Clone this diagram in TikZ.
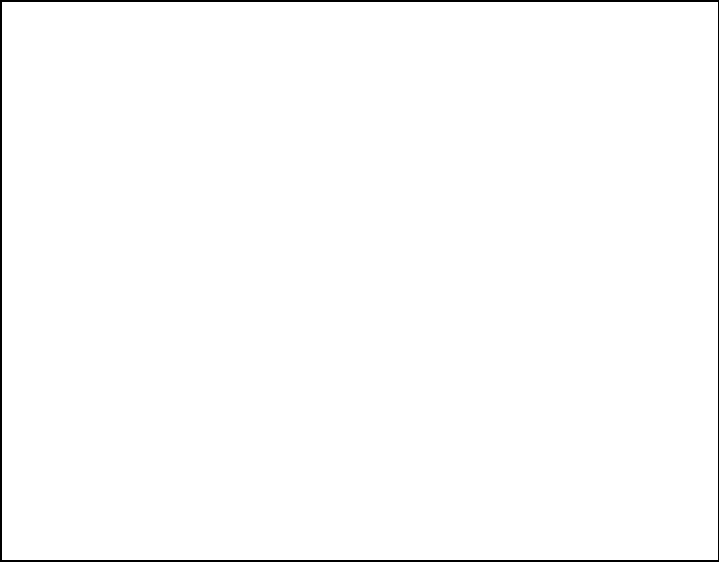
\documentclass[tikz,border=0pt]{standalone}
\begin{document}
\begin{tikzpicture}[x=1bp,y=1bp]
\useasboundingbox (0,0) rectangle (720,562);
\fill[white] (0,0) rectangle (720,562);
\draw[black,line width=1.3bp] (0.9,0.9) rectangle (718.6,561.1);
\end{tikzpicture}
\end{document}
